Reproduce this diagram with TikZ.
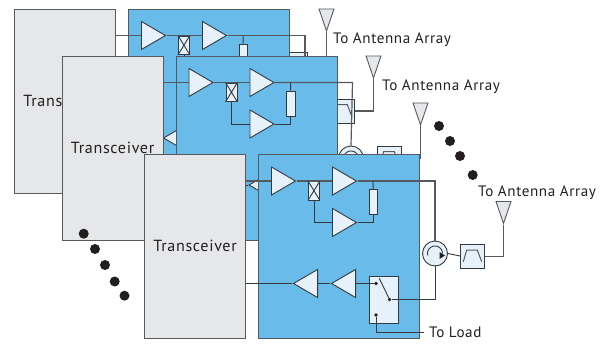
\documentclass[tikz,border=0pt]{standalone}
\usepackage{fontspec}
\setmainfont{PT Sans}[LetterSpace=4]
\usetikzlibrary{shapes.geometric}
\definecolor{dk}{HTML}{333A40}
\definecolor{gy}{HTML}{565A5E}
\definecolor{panel}{HTML}{E6E7E9}
\definecolor{bl}{HTML}{69BBEA}
\definecolor{lt}{HTML}{E6F1FA}
\definecolor{dot}{HTML}{231F20}
\tikzset{
 wire/.style={draw=dk,line width=0.9pt},
 sig/.style={draw=gy,line width=1.2pt},
 ampr/.style={isosceles triangle,isosceles triangle stretches,draw=dk,fill=lt,line width=0.9pt,minimum width=28pt,minimum height=24pt,inner sep=0pt,anchor=west},
 ampl/.style={ampr,shape border rotate=180,anchor=east},
 gbox/.style={rectangle,draw=gy,fill=panel,line width=1.2pt,minimum width=101pt,minimum height=184pt,anchor=north west,inner sep=0pt,text=dot,font=\fontsize{16.1}{17}\selectfont},
 bbox/.style={rectangle,draw=gy,fill=bl,line width=1.2pt,minimum width=161pt,minimum height=184pt,anchor=north west,inner sep=0pt},
 part/.style={rectangle,draw=dk,fill=lt,line width=0.9pt,inner sep=0pt,anchor=north west},
 filt/.style={part,minimum width=24pt,minimum height=24pt},
 circ/.style={circle,draw=dk,fill=lt,line width=0.9pt,minimum size=25pt,inner sep=0pt},
 ant/.style={isosceles triangle,isosceles triangle stretches,shape border rotate=-90,draw=gy,fill=panel,line width=0.9pt,minimum width=15pt,minimum height=22pt,inner sep=0pt,anchor=north},
 pin/.style={circle,fill=dot,minimum size=3.6pt,inner sep=0pt},
 bigdot/.style={circle,fill=dot,minimum size=10pt,inner sep=0pt},
 lab/.style={anchor=west,inner sep=0pt,text=dot,font=\fontsize{15.1}{17}\selectfont},
}
% filter + antenna chain, in front-layer coordinates
\newcommand{\chain}[3]{%
 \begin{scope}[shift={(#2,#3)}]
 \node[filt] (#1f) at (460,244) {};
 \node[ant] (#1t) at (503.5,201) {};
 \draw[sig] (#1f.east) -| (#1t.south);
 \draw[sig,line width=1pt] (463.3,261.7) -- (466.7,250) -- (477.3,250) -- (481.7,261.7);
 \end{scope}}
% one transceiver layer: name, shift x, y, circulator tweak x, y
\newcommand{\layer}[5]{%
 \begin{scope}[shift={(#2,#3)}]
 \node[gbox] (#1g) at (144,154) {\raisebox{1.2pt}{Transceiver}};
 \node[bbox] (#1b) at (258,154) {};
 \node[ampr] (#1a) at (271,181) {};
 \node[ampr] (#1c) at (332,181) {};
 \node[ampr] (#1d) at (332,222.5) {};
 \node[ampl] (#1e) at (356,283.5) {};
 \node[ampl] (#1h) at (318,283.5) {};
 \node[part,minimum width=11pt,minimum height=18.5pt] (#1m) at (308,181) {};
 \node[part,minimum width=8.5pt,minimum height=25pt] (#1r) at (368.5,189) {};
 \node[part,minimum width=29pt,minimum height=47.5pt] (#1s) at (368.5,275.5) {};
 \node[circ] (#1o) at ({435+#4},{253.5+#5}) {};
 \coordinate (#1x) at (435,181);
 \coordinate (#1k) at (435,299.5);
 \coordinate (#1n) at (373,181);
 \coordinate (#1u) at (424,332);
 \node[pin] (#1p) at (376,283.5) {};
 \node[pin] (#1q) at (389.5,299.5) {};
 \node[pin] (#1v) at (376,315) {};
 \draw[sig] (#1g.east |- #1a.west) -- (#1a.west);
 \draw[sig] (#1a.east) -- (#1c.west);
 \draw[sig] (#1c.east) -- (#1x) -- (#1o.north);
 \draw[wire] (#1n) -- (#1r.north);
 \draw[wire] (#1r.south) |- (#1d.east);
 \draw[wire] (#1m.south) |- (#1d.west);
 \draw[wire] (#1m.north west) -- (#1m.south east) (#1m.north east) -- (#1m.south west);
 \draw[wire] (#1h.west) -- (#1g.east |- #1h.west);
 \draw[wire] (#1e.west) -- (#1h.east);
 \draw[wire] (#1e.east) -- (#1p);
 \draw[wire] (379.3,278.3) -- (#1q);
 \draw[wire] (#1q) -- (#1k) -- (#1o.south);
 \draw[wire] (#1v) |- (#1u);
 \draw[wire] (#1o.east) -- (460,256);
 \draw[wire] plot[smooth,domain=0:195,samples=20] ({435+#4+7.5*cos(\x)},{253.5+#5-7.5*sin(\x)});
 \fill[dot] ({439.5+#4},{252+#5}) -- ({445+#4},{255.5+#5}) -- ({439.5+#4},{259+#5}) -- cycle;
 \end{scope}}
\begin{document}
\begin{tikzpicture}[x=1pt,y=-1pt]
\useasboundingbox (0,0) rectangle (607,343);
\chain{z}{-177}{-192.5}
\chain{w}{-130}{-145.5}
\layer{l}{-130}{-145.5}{0}{0}
\chain{v}{-83}{-98.5}
\layer{m}{-82.5}{-98.5}{-1.5}{3.5}
\chain{u}{0}{0}
\layer{f}{0}{0}{0}{0}
\foreach \n/\px/\py in {a/83.7/233.7,b/95/249,c/105/265,d/114.7/281.5,e/124.5/295.7,g/439/126,h/450/141,i/460/156,j/472.7/175}
 \node[bigdot] (dot\n) at (\px,\py) {};
\node[lab] (t1) at (333,39.5) {To Antenna Array};
\node[lab] (t2) at (382,86.5) {To Antenna Array};
\node[lab] (t3) at (478,193) {To Antenna Array};
\node[lab] (t4) at (429,332) {To Load};
\end{tikzpicture}
\end{document}
